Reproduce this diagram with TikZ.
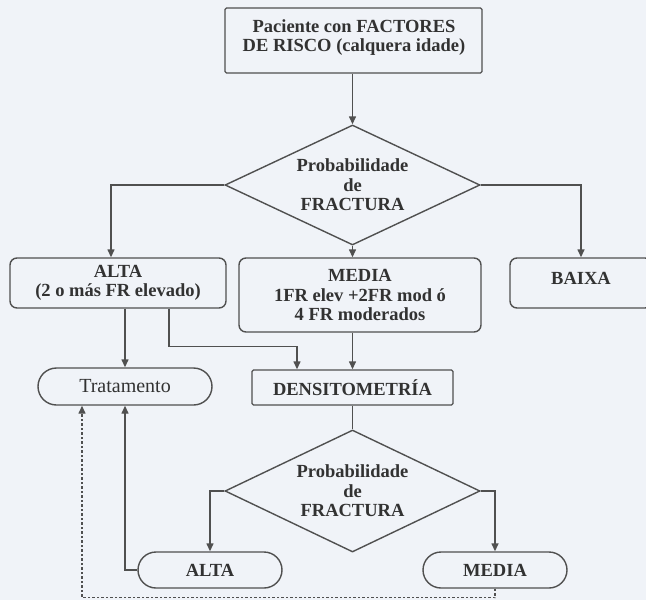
\documentclass[tikz,border=0pt]{standalone}
\usepackage{fontspec}
\setmainfont{Liberation Serif}
\usetikzlibrary{arrows.meta,shapes.geometric,shapes.misc,calc}
\definecolor{bg}{RGB}{240,243,248}
\definecolor{ink}{RGB}{50,50,50}
\definecolor{ln}{RGB}{80,80,80}
\tikzset{
 base/.style={text=ink, font=\fontsize{18.5}{19.5}\selectfont\bfseries, inner sep=0pt, align=center},
 rbox/.style={base, draw=ln, line width=1.4pt, rounded corners=7pt},
 sbox/.style={base, draw=ln, line width=1.4pt, rounded corners=1.5pt},
 pill/.style={base, draw=ln, line width=1.4pt, rounded rectangle},
 dec/.style={base, draw=ln, line width=1.4pt, diamond, aspect=2.1},
 lbl/.style={base},
 conn/.style={draw=ln, line width=1.4pt},
 arr/.style={conn, -{Triangle[length=8pt,width=7pt]}},
 dots/.style={conn, dash pattern=on 2.5pt off 2pt, -{Triangle[length=8pt,width=7pt]}}
}
\begin{document}
\begin{tikzpicture}[x=1pt,y=-1pt]
\useasboundingbox (0,0) rectangle (646,600);
\clip (0,0) rectangle (646,600);
\fill[bg] (0,0) rectangle (646,600);

\node[sbox, minimum width=257pt, minimum height=65pt] (top) at (353.5,40.5) {};
\node[lbl] (toptxt) at (354,37.5) {Paciente con FACTORES\\DE RISCO (calquera idade)};

\node[dec, minimum width=255pt, minimum height=120pt] (d1) at (352.5,185) {Probabilidade\\de\\FRACTURA};

\node[rbox, minimum width=216pt, minimum height=50pt] (alta) at (118,283) {ALTA\\(2 o más FR elevado)};
\node[rbox, minimum width=242pt, minimum height=74pt] (media) at (360,295) {MEDIA\\1FR elev +2FR mod ó\\4 FR moderados};
\node[rbox, minimum width=142pt, minimum height=50pt] (baixa) at (581,283) {};
\node[lbl] (baixatxt) at (581,278) {BAIXA};

\node[pill, minimum width=174pt, minimum height=37pt, font=\fontsize{20}{22}\selectfont\mdseries] (trat) at (125,386.5) {Tratamento};
\node[sbox, minimum width=201pt, minimum height=35pt] (dens) at (352.5,387.5) {DENSITOMETRÍA};

\node[dec, minimum width=255pt, minimum height=122pt] (d2) at (352.5,491) {Probabilidade\\de\\FRACTURA};

\node[pill, minimum width=144pt, minimum height=36pt] (altab) at (210,570) {ALTA};
\node[pill, minimum width=144pt, minimum height=36pt] (mediab) at (495,570) {MEDIA};

\draw[arr] (top.south -| d1.north) -- (d1.north);
\draw[arr] (d1.west) -| ([xshift=-7pt]alta.north);
\draw[arr] (d1.east) -| (baixa.north);
\draw[arr] (d1.south) -- (d1.south |- media.north);
\draw[arr] (alta.south -| trat.north) -- (trat.north);
\draw[arr] ([xshift=51pt]alta.south) -- ++(0,38) -| ([xshift=-55.5pt]dens.north);
\draw[arr] (dens.north |- media.south) -- (dens.north);
\draw[conn] (dens.south) -- (d2.north);
\draw[arr] (d2.west) -| (altab.north);
\draw[arr] (d2.east) -| (mediab.north);
\draw[arr] (altab.west) -| (trat.south);
\draw[dots] (mediab.south) -- ++(0,9) -| ([xshift=-43pt]trat.south);
\end{tikzpicture}
\end{document}
